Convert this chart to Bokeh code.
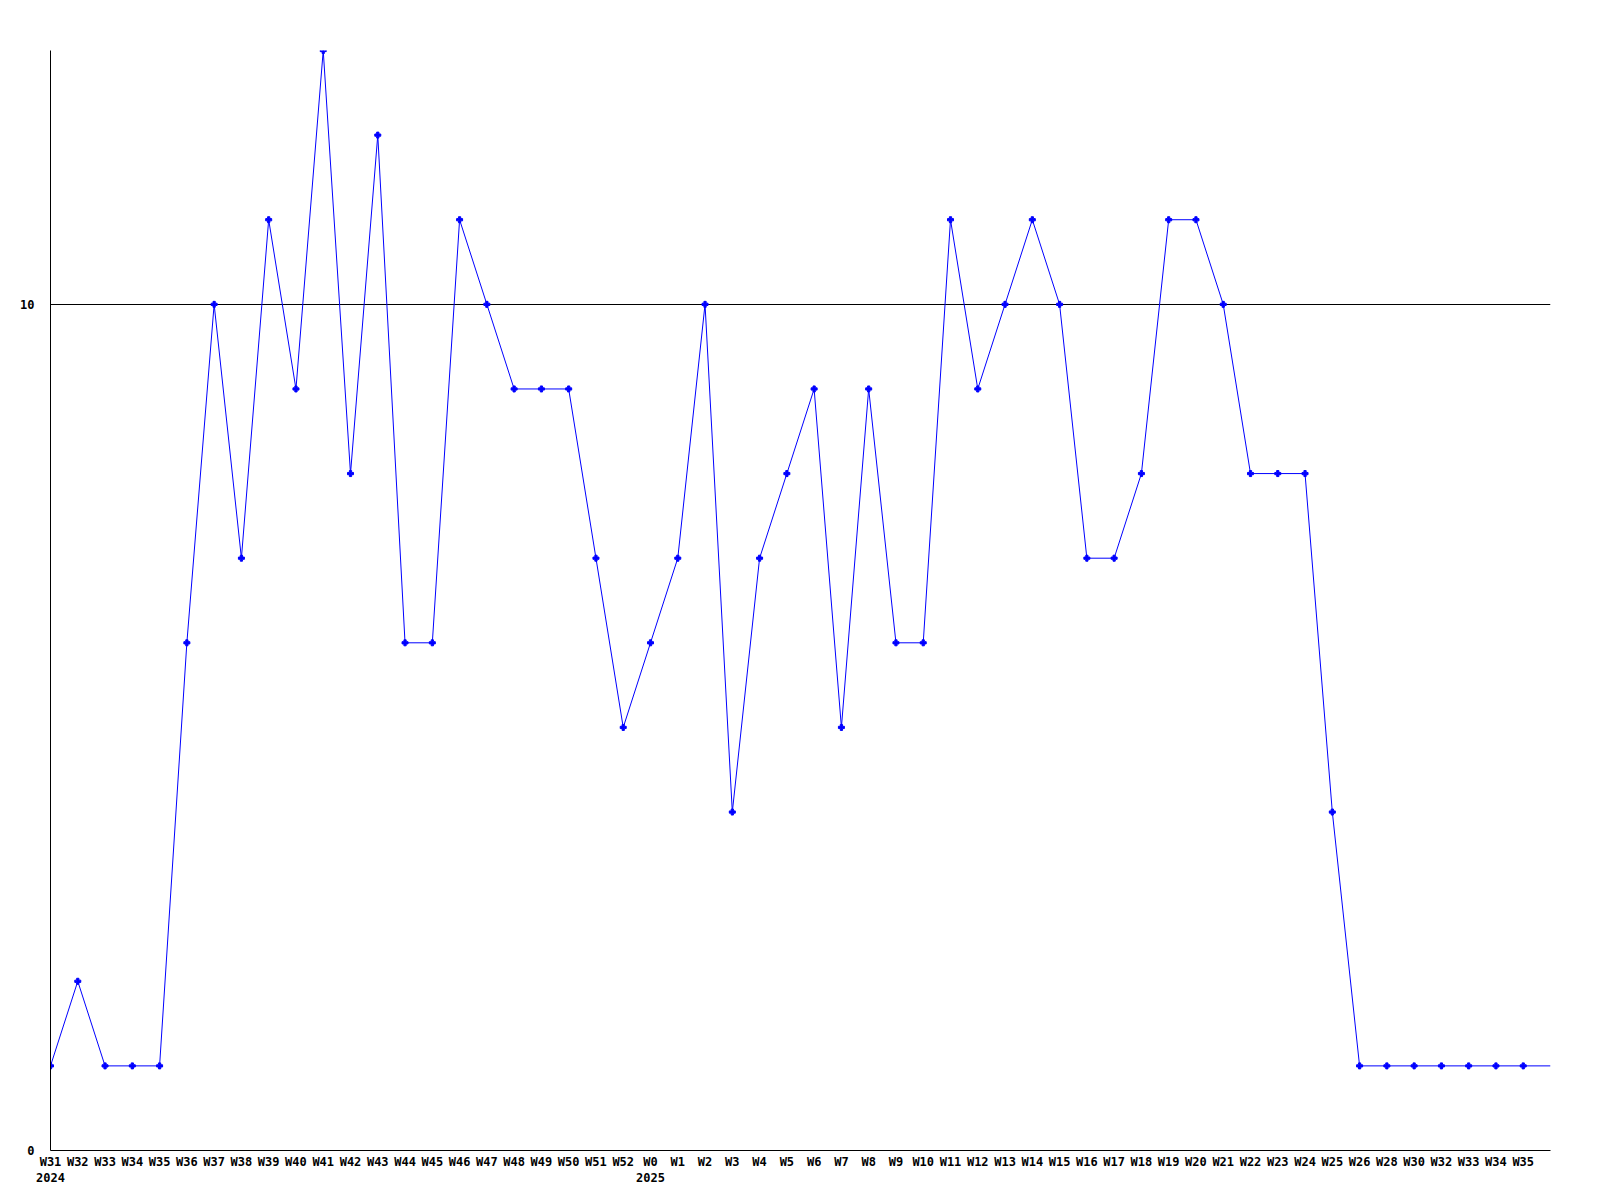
from bokeh.plotting import figure
from bokeh.models import Range1d, FixedTicker
from bokeh.embed import file_html
from bokeh.resources import INLINE

weeks = ["W31", "W32", "W33", "W34", "W35", "W36", "W37", "W38", "W39", "W40",
         "W41", "W42", "W43", "W44", "W45", "W46", "W47", "W48", "W49", "W50",
         "W51", "W52", "W0", "W1", "W2", "W3", "W4", "W5", "W6", "W7",
         "W8", "W9", "W10", "W11", "W12", "W13", "W14", "W15", "W16", "W17",
         "W18", "W19", "W20", "W21", "W22", "W23", "W24", "W25", "W26", "W28",
         "W30", "W32", "W33", "W34", "W35"]
year_marks = {0: "2024", 22: "2025"}
values = [1, 2, 1, 1, 1, 6, 10, 7, 11, 9,
          13, 8, 12, 6, 6, 11, 10, 9, 9, 9,
          7, 5, 6, 7, 10, 4, 7, 8, 9, 5,
          9, 6, 6, 11, 9, 10, 11, 10, 7, 7,
          8, 11, 11, 10, 8, 8, 8, 4, 1, 1,
          1, 1, 1, 1, 1]
y_ticks = [0, 10]
y_max = 13

n = len(weeks)
xs = list(range(n))
# line continues flat to the right edge of the plot (one more slot)
line_x = xs + [n]
line_y = values + [values[-1]]

p = figure(width=1592, height=1192, output_backend="svg", toolbar_location=None,
           x_range=Range1d(0, n), y_range=Range1d(0, y_max),
           min_border_left=50, min_border_top=50, min_border_right=42, min_border_bottom=42)
p.outline_line_color = None
p.background_fill_color = "white"
p.border_fill_color = "white"

p.line(line_x, line_y, line_color="#0000ff", line_width=1)
p.scatter(xs, values, marker="plus", size=6, fill_color="#0000ff", line_color="#0000ff")

font = "DejaVu Sans Mono"

xa = p.xaxis[0]
xa.ticker = FixedTicker(ticks=xs)
overrides = {}
for i, w in enumerate(weeks):
    lbl = w
    if i in year_marks:
        lbl = w + "\n" + year_marks[i]
    overrides[i] = lbl
xa.major_label_overrides = overrides
xa.major_label_text_font = font
xa.major_label_text_font_style = "bold"
xa.major_label_text_font_size = "12px"
xa.major_label_text_color = "black"
xa.major_label_standoff = 4
xa.major_tick_out = 0
xa.major_tick_in = 0
xa.minor_tick_out = 0
xa.minor_tick_in = 0
xa.axis_line_color = "black"

ya = p.yaxis[0]
ya.ticker = FixedTicker(ticks=y_ticks)
ya.major_label_text_font = font
ya.major_label_text_font_style = "bold"
ya.major_label_text_font_size = "12px"
ya.major_label_text_color = "black"
ya.major_label_text_align = "left"
ya.major_label_standoff = 16
ya.major_tick_out = 0
ya.major_tick_in = 0
ya.minor_tick_out = 0
ya.minor_tick_in = 0
ya.axis_line_color = "black"

p.xgrid.grid_line_color = None
p.ygrid.ticker = FixedTicker(ticks=y_ticks)
p.ygrid.grid_line_color = "black"
p.ygrid.grid_line_alpha = 1.0

open("out.html", "w").write(file_html(p, INLINE))
